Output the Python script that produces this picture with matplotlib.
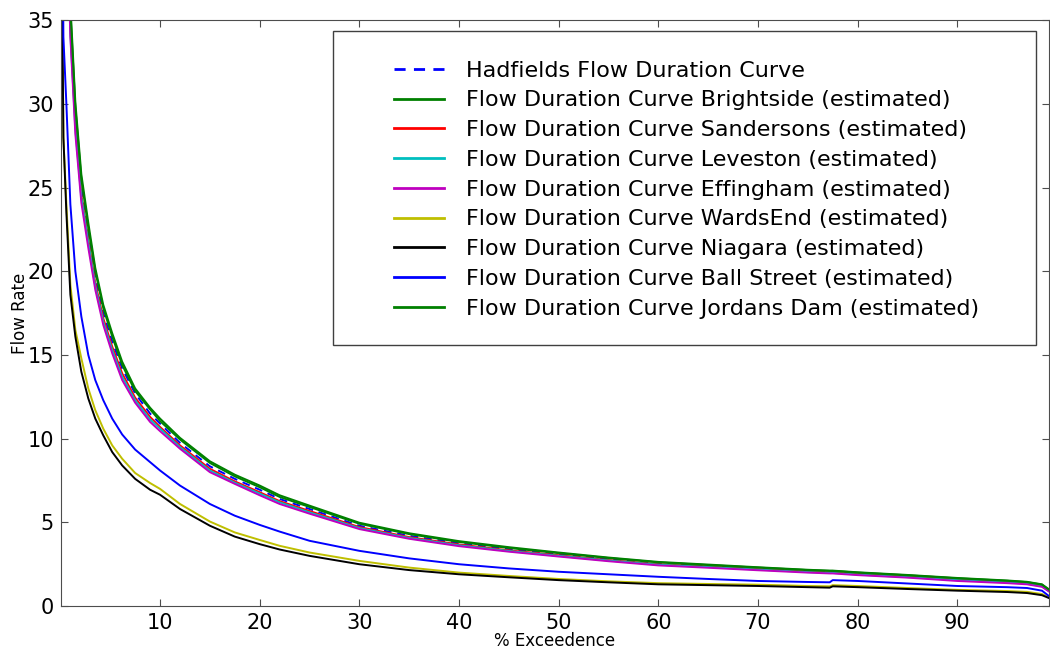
import matplotlib
matplotlib.use('Agg')
import matplotlib.pyplot as plt
from matplotlib.patches import Rectangle

# % exceedence positions the curves were read at
exceedence = [0.05, 0.3, 0.6, 1.0, 1.5, 2.1, 2.8, 3.5, 4.3, 5.2, 6.2, 7.5, 9, 10, 12, 15, 17.5,
              20, 22, 25, 30, 35, 40, 45, 50, 55, 60, 65, 70, 75, 77.2, 77.5, 80, 85, 90, 95,
              97, 98.5, 99.2]

hadfields = [90, 60, 44, 35, 29.2, 25, 22.2, 19.6, 17.5, 15.8, 14.2, 12.7, 11.5, 10.9, 9.75, 8.35,
             7.6, 6.95, 6.4, 5.8, 4.8, 4.2, 3.75, 3.4, 3.1, 2.8, 2.55, 2.4, 2.25, 2.1, 2.05,
             2.05, 1.95, 1.8, 1.62, 1.48, 1.4, 1.25, 0.95]
brightside = [93, 62, 45.5, 36, 30.1, 25.8, 22.9, 20.2, 18.0, 16.3, 14.6, 13.0, 11.85, 11.2, 10.05,
              8.65, 7.85, 7.2, 6.62, 6.0, 4.98, 4.35, 3.88, 3.52, 3.2, 2.9, 2.64, 2.48, 2.32, 2.17,
              2.12, 2.12, 2.02, 1.86, 1.68, 1.53, 1.45, 1.3, 1.0]
sandersons = [88, 59, 43, 34.5, 28.8, 24.6, 21.9, 19.3, 17.2, 15.5, 13.9, 12.45, 11.3, 10.7, 9.6,
              8.2, 7.45, 6.8, 6.27, 5.68, 4.72, 4.12, 3.68, 3.33, 3.04, 2.75, 2.5, 2.36, 2.21,
              2.06, 2.01, 2.01, 1.91, 1.76, 1.58, 1.44, 1.36, 1.21, 0.92]
leveston = [87, 58, 42.5, 34.2, 28.5, 24.4, 21.7, 19.1, 17.0, 15.3, 13.7, 12.3, 11.15, 10.6, 9.5,
            8.1, 7.37, 6.72, 6.2, 5.6, 4.66, 4.07, 3.63, 3.29, 3.0, 2.72, 2.47, 2.33, 2.18,
            2.03, 1.98, 1.98, 1.88, 1.73, 1.55, 1.41, 1.33, 1.18, 0.9]
effingham = [86, 57, 42, 34, 28.2, 24.1, 21.4, 18.9, 16.8, 15.1, 13.5, 12.15, 11.0, 10.45, 9.4,
             8.0, 7.3, 6.62, 6.1, 5.52, 4.6, 4.02, 3.58, 3.25, 2.96, 2.68, 2.43, 2.29, 2.14,
             2.0, 1.95, 1.95, 1.85, 1.7, 1.5, 1.37, 1.3, 1.15, 0.87]
wardsend = [50, 28, 24, 19.2, 16.5, 14.8, 13.0, 11.7, 10.6, 9.6, 8.8, 7.95, 7.35, 7.0, 6.1, 5.05,
            4.4, 3.95, 3.6, 3.2, 2.7, 2.3, 2.0, 1.8, 1.62, 1.48, 1.37, 1.32, 1.28, 1.2, 1.18,
            1.25, 1.2, 1.08, 0.97, 0.9, 0.85, 0.72, 0.52]
niagara = [45, 28, 23.5, 18.6, 16.1, 14.0, 12.4, 11.2, 10.2, 9.2, 8.4, 7.6, 6.95, 6.65, 5.8, 4.8,
           4.15, 3.7, 3.38, 3.0, 2.5, 2.15, 1.9, 1.72, 1.55, 1.42, 1.3, 1.25, 1.2, 1.13, 1.1,
           1.18, 1.13, 1.02, 0.92, 0.84, 0.78, 0.65, 0.48]
ball_street = [55, 34, 30, 24, 20, 17.3, 15, 13.5, 12.3, 11.2, 10.25, 9.35, 8.6, 8.1, 7.2, 6.1,
               5.4, 4.85, 4.45, 3.9, 3.3, 2.85, 2.5, 2.25, 2.05, 1.9, 1.75, 1.62, 1.5, 1.44, 1.42,
               1.55, 1.5, 1.35, 1.2, 1.13, 1.08, 0.92, 0.6]
jordans_dam = [92, 61, 45, 35.6, 29.8, 25.5, 22.6, 20.0, 17.8, 16.1, 14.4, 12.85, 11.75, 11.05, 9.95,
               8.55, 7.75, 7.1, 6.52, 5.92, 4.92, 4.3, 3.83, 3.47, 3.16, 2.87, 2.61, 2.45, 2.3,
               2.15, 2.1, 2.1, 2.0, 1.84, 1.66, 1.51, 1.43, 1.28, 0.98]

estimated = [
    ('Brightside', brightside, 'g'),
    ('Sandersons', sandersons, 'r'),
    ('Leveston', leveston, 'c'),
    ('Effingham', effingham, 'm'),
    ('WardsEnd', wardsend, 'y'),
    ('Niagara', niagara, 'k'),
    ('Ball Street', ball_street, 'b'),
    ('Jordans Dam', jordans_dam, 'g'),
]

fig = plt.figure(figsize=(10.5, 6.51), dpi=100)
ax = fig.add_axes([0.058, 0.069, 0.941, 0.900])

ax.plot(exceedence, hadfields, 'b--', lw=1.4, dashes=(4, 3), label='Hadfields Flow Duration Curve')
for name, vals, col in estimated:
    ax.plot(exceedence, vals, color=col, lw=1.4,
            label='Flow Duration Curve %s (estimated)' % name)

ax.set_xlim(exceedence[0], exceedence[-1])
ax.set_ylim(0, 35)
ax.set_xticks(range(10, 100, 10))
ax.set_xlabel('% Exceedence', fontsize=12, labelpad=-1)
ax.set_ylabel('Flow Rate', fontsize=12, labelpad=-1)
ax.tick_params(direction='in', top=True, right=True, length=5, labelsize=15, pad=5,
               color='0.3')
for s in ax.spines.values():
    s.set_color('0.3')

# legend box drawn separately so the padding matches the original
ax.add_patch(Rectangle((0.275, 0.445), 0.712, 0.536, transform=ax.transAxes,
                       facecolor='white', edgecolor='0.25', lw=1, zorder=4))
leg = ax.legend(loc='upper left', bbox_to_anchor=(0.337, 0.931), borderaxespad=0,
                borderpad=0, frameon=False, fontsize=16, handlelength=2.25,
                handletextpad=1.0, labelspacing=0.44)
leg.set_zorder(5)
for ln in leg.get_lines():
    ln.set_linewidth(2.0)

fig.savefig('out.png', dpi=100)
